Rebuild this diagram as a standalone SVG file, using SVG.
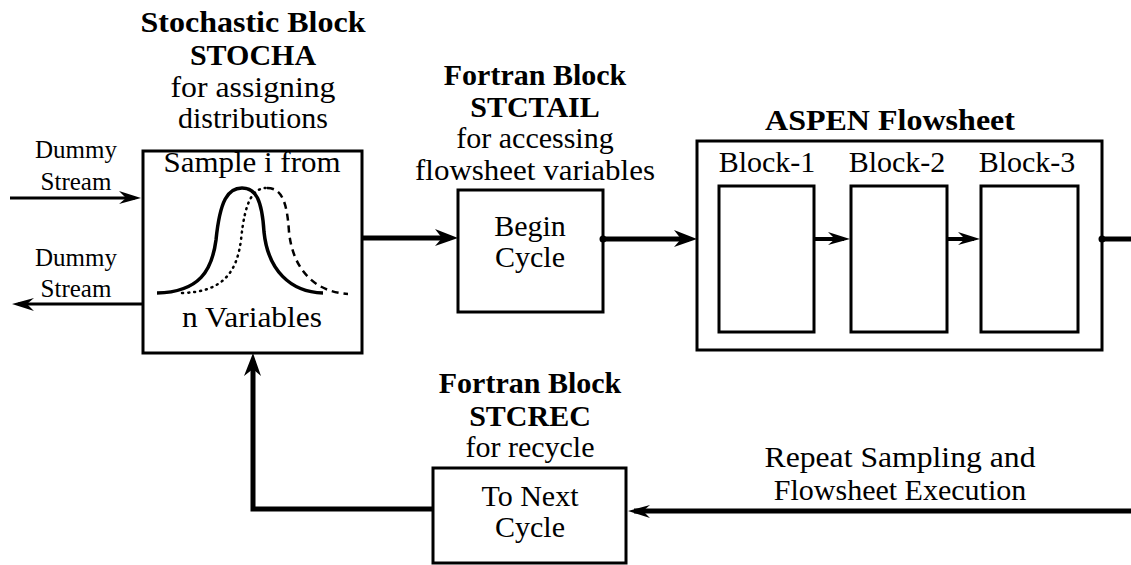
<svg xmlns="http://www.w3.org/2000/svg" width="1131" height="565" viewBox="0 0 1131 565" font-family="'Liberation Serif', 'DejaVu Serif', serif">
<style>
text{font-family:'Liberation Serif','DejaVu Serif',serif;fill:#000;text-anchor:middle}
.t{font-size:30px}
.b{font-size:30px;font-weight:bold}
.s{font-size:25px}
.box{fill:#fff;stroke:#000;stroke-width:3}
.thick{fill:none;stroke:#000;stroke-width:5}
.mid{fill:none;stroke:#000;stroke-width:4}
.thin{fill:none;stroke:#000;stroke-width:3}
</style>
<defs>
<marker id="ah" viewBox="-18 -12 28 24" markerWidth="28" markerHeight="24" refX="0" refY="0" orient="auto" markerUnits="userSpaceOnUse">
<path d="M8,0 L-15,-9 L-8,0 L-15,8 Z" fill="#000"/>
</marker>
<marker id="ahs" viewBox="-18 -12 28 24" markerWidth="28" markerHeight="24" refX="0" refY="0" orient="auto" markerUnits="userSpaceOnUse">
<path d="M6,0 L-16,-7 L-9,0 L-16,6 Z" fill="#000"/>
</marker>
</defs>
<rect width="1131" height="565" fill="#fff"/>

<g id="stocha">
<text class="b" x="253" y="32" textLength="225" lengthAdjust="spacingAndGlyphs">Stochastic Block</text>
<text class="b" x="253" y="65">STOCHA</text>
<text class="t" x="253" y="97" textLength="165" lengthAdjust="spacingAndGlyphs">for assigning</text>
<text class="t" x="253" y="128">distributions</text>
<rect class="box" x="143" y="151" width="219" height="202"/>
<text class="t" x="252" y="172" textLength="177" lengthAdjust="spacingAndGlyphs">Sample i from</text>
<path d="M157,293 C200,292 212,270 216,240 C220,200 228,188 242,188 C256,188 262,200 264,232 C268,270 290,292 323,293" fill="none" stroke="#000" stroke-width="3.5"/>
<path d="M182,293 C225,292 237,270 241,240 C245,200 253,188 267,188" fill="none" stroke="#000" stroke-width="2.5" stroke-dasharray="1 5" stroke-linecap="round"/>
<path d="M267,188 C281,188 287,200 289,232 C293,270 315,292 348,294" fill="none" stroke="#000" stroke-width="2.5" stroke-dasharray="7 5"/>
<text class="t" x="252" y="327" textLength="140" lengthAdjust="spacingAndGlyphs">n Variables</text>
</g>

<g id="dummy-in">
<text class="s" x="76" y="158">Dummy</text>
<text class="s" x="76" y="190">Stream</text>
</g>
<g id="dummy-out">
<text class="s" x="76" y="266">Dummy</text>
<text class="s" x="76" y="297">Stream</text>
</g>

<g id="stctail">
<text class="b" x="535" y="85">Fortran Block</text>
<text class="b" x="535" y="117">STCTAIL</text>
<text class="t" x="535" y="148">for accessing</text>
<text class="t" x="535" y="180" textLength="240" lengthAdjust="spacingAndGlyphs">flowsheet variables</text>
<rect class="box" x="458" y="190" width="145" height="122"/>
<text class="t" x="530" y="236">Begin</text>
<text class="t" x="530" y="267">Cycle</text>
</g>

<g id="aspen">
<text class="b" x="890" y="130" textLength="250" lengthAdjust="spacingAndGlyphs">ASPEN Flowsheet</text>
<rect class="box" x="697" y="141" width="405" height="209"/>
</g>
<g id="block1">
<text class="t" x="767" y="172">Block-1</text>
<rect class="box" x="719" y="186" width="95" height="146"/>
</g>
<g id="block2">
<text class="t" x="897" y="172">Block-2</text>
<rect class="box" x="851" y="186" width="96" height="146"/>
</g>
<g id="block3">
<text class="t" x="1027" y="172">Block-3</text>
<rect class="box" x="981" y="186" width="97" height="146"/>
</g>

<g id="stcrec">
<text class="b" x="530" y="393">Fortran Block</text>
<text class="b" x="530" y="426">STCREC</text>
<text class="t" x="530" y="457">for recycle</text>
<rect class="box" x="433" y="468" width="193" height="95"/>
<text class="t" x="530" y="506">To Next</text>
<text class="t" x="530" y="537">Cycle</text>
</g>

<g id="repeat-label">
<text class="t" x="900" y="467" textLength="271" lengthAdjust="spacingAndGlyphs">Repeat Sampling and</text>
<text class="t" x="900" y="500">Flowsheet Execution</text>
</g>

<g id="connectors">
<line class="thin" x1="10" y1="198" x2="135" y2="198" marker-end="url(#ahs)"/>
<line class="thin" x1="143" y1="304" x2="18" y2="304" marker-end="url(#ahs)"/>
<line class="thick" x1="363" y1="238" x2="450" y2="238" marker-end="url(#ah)"/>
<line class="thick" x1="603" y1="239" x2="689" y2="239" marker-end="url(#ah)"/>
<circle cx="603" cy="239" r="3.5" fill="#000"/>
<line class="mid" x1="814" y1="239" x2="844" y2="239" marker-end="url(#ahs)"/>
<line class="mid" x1="947" y1="239" x2="974" y2="239" marker-end="url(#ahs)"/>
<line class="thick" x1="1102" y1="239" x2="1131" y2="239"/>
<circle cx="1102" cy="239" r="3.5" fill="#000"/>
<line class="thick" x1="1131" y1="511" x2="634" y2="511" marker-end="url(#ahs)"/>
<polyline class="thick" points="433,509 253,509 253,361" marker-end="url(#ah)"/>
</g>
</svg>
